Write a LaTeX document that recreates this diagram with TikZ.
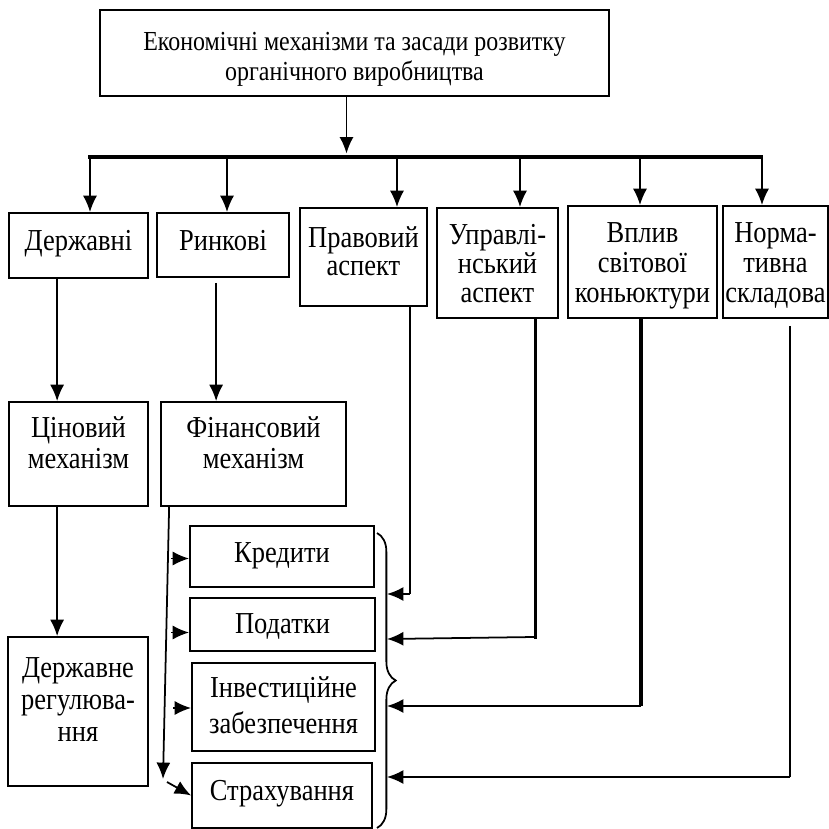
\documentclass[tikz,border=0pt]{standalone}
\usepackage{fontspec}
\setmainfont{Liberation Serif}[FakeStretch=0.87]
\usetikzlibrary{arrows.meta,calc,fit,decorations.pathreplacing}
\tikzset{>={Latex[length=14pt,width=12pt]}}
\tikzset{blk/.style={draw,line width=1.5pt,inner sep=0pt},
  txt/.style={anchor=base,align=center,inner sep=0pt,font=\fontsize{26}{#1}\selectfont},
  txt/.default=25,
  ln/.style={line width=1.5pt},
  thk/.style={line width=2.6pt},
  bus/.style={line width=3.2pt}}

\begin{document}
\begin{tikzpicture}[x=0.03cm,y=-0.03cm]
\useasboundingbox (0,0) rectangle (829,828);
% boxes
\node[blk,fit={(100,10) (609,96)}] (top) {};
\node[blk,fit={(9,213) (148,278)}] (derzh) {};
\node[blk,fit={(157,213) (289,277)}] (rynk) {};
\node[blk,fit={(300,208) (427,306)}] (prav) {};
\node[blk,fit={(437,208) (558,318)}] (upr) {};
\node[blk,fit={(568,206) (717,318)}] (vplyv) {};
\node[blk,fit={(723,206) (828,318)}] (norm) {};
\node[blk,fit={(9,402) (148,506)}] (cin) {};
\node[blk,fit={(161,402) (346,506)}] (fin) {};
\node[blk,fit={(8,637) (148,786)}] (dreg) {};
\node[blk,fit={(190,526) (374,587)}] (kred) {};
\node[blk,fit={(190,598) (375,651)}] (pod) {};
\node[blk,fit={(192,663) (375,751)}] (inv) {};
\node[blk,fit={(192,763) (372,828)}] (strakh) {};
% texts (anchor is the baseline of the last line)
\node[txt,font=\fontsize{23.5}{25}\selectfont] (topT) at ($(top.north)+(0,71)$) {Економічні механізми та засади розвитку\\органічного виробництва};
\node[txt] (derzhT) at ($(derzh.north)+(0,38)$) {Державні};
\node[txt] (rynkT) at ($(rynk.north)+(0,38)$) {Ринкові};
\node[txt=24] (pravT) at ($(prav.north)+(0,68)$) {Правовий\\аспект};
\node[txt=24.7] (uprT) at ($(upr.north)+(0,95)$) {Управлі-\\нський\\аспект};
\node[txt=25.6] (vplyvT) at ($(vplyv.north)+(0,97)$) {Вплив\\світової\\коньюктури};
\node[txt=25.6] (normT) at ($(norm.north)+(0,97)$) {Норма-\\тивна\\складова};
\node[txt=26.4] (cinT) at ($(cin.north)+(0,67)$) {Ціновий\\механізм};
\node[txt=26.4] (finT) at ($(fin.north)+(0,67)$) {Фінансовий\\механізм};
\node[txt=27.3] (dregT) at ($(dreg.north)+(0,105)$) {Державне\\регулюва-\\ння};
\node[txt] (kredT) at ($(kred.north)+(0,37)$) {Кредити};
\node[txt] (podT) at ($(pod.north)+(0,36)$) {Податки};
\node[txt=30] (invT) at ($(inv.north)+(0,71)$) {Інвестиційне\\забезпечення};
\node[txt] (strakhT) at ($(strakh.north)+(0,38)$) {Страхування};
% top level
\coordinate (busL) at (88,157);
\coordinate (busR) at (763,157);
\draw[bus] (busL) -- (busR);
\draw[ln,->,shorten >=3pt] ($(top.south)+(-8,0)$) coordinate (t1) -- (t1 |- busL);
\foreach \n/\x in {derzh/90,rynk/227,prav/397,upr/520,vplyv/640,norm/762}
  \draw[ln,->] (\x,0 |- busL) -- (\x,0 |- \n.north);
% left columns
\draw[ln,->] ($(derzh.south west)+(49,0)$) coordinate (d1) -- (d1 |- cin.north);
\draw[ln,->] ($(cin.south west)+(49,0)$) coordinate (c1) -- (c1 |- dreg.north);
\draw[ln,->] ($(rynk.south west)+(60,5)$) coordinate (r1) -- (r1 |- fin.north);
\coordinate (f1) at ($(fin.south west)+(9,0)$);
\coordinate (f2) at (163,779);
\draw[ln,->] (f1) -- (f2);
\draw[ln,->] ($(f2)+(4,3)$) -- (strakh.west);
\foreach \n/\d in {kred/2,pod/8,inv/1}
  \draw[ln,->] ($(\n.west)+(-18,\d)$) -- ($(\n.west)+(0,\d)$);
% brace and right arrows
\coordinate (brT) at (377,533);
\coordinate (brB) at (377,828);
\coordinate (brx) at (387,0);
\draw[ln,decorate,decoration={brace,amplitude=16pt}] (brT) -- (brB);
\draw[line width=2pt] ($(prav.south east)+(-18,0)$) coordinate (p1) -- (p1 |- 0,594) coordinate (p2);
\draw[ln,->] (p2) -- (p2 -| brx);
\draw[thk] ($(upr.south east)+(-23,0)$) coordinate (u1) -- (u1 |- 0,639) coordinate (u2);
\draw[ln,->] ($(u2)+(-2,-2)$) -- (brx |- u2);
\draw[thk] ($(vplyv.south)+(-1.5,0)$) coordinate (v1) -- (v1 |- 0,706) coordinate (v2);
\draw[ln,->] (v2) -- (brx |- v2);
\draw[line width=2pt] ($(norm.south)+(14.5,7)$) coordinate (n1) -- (n1 |- 0,777) coordinate (n2);
\draw[ln,->] (n2) -- (brx |- n2);
\end{tikzpicture}
\end{document}
